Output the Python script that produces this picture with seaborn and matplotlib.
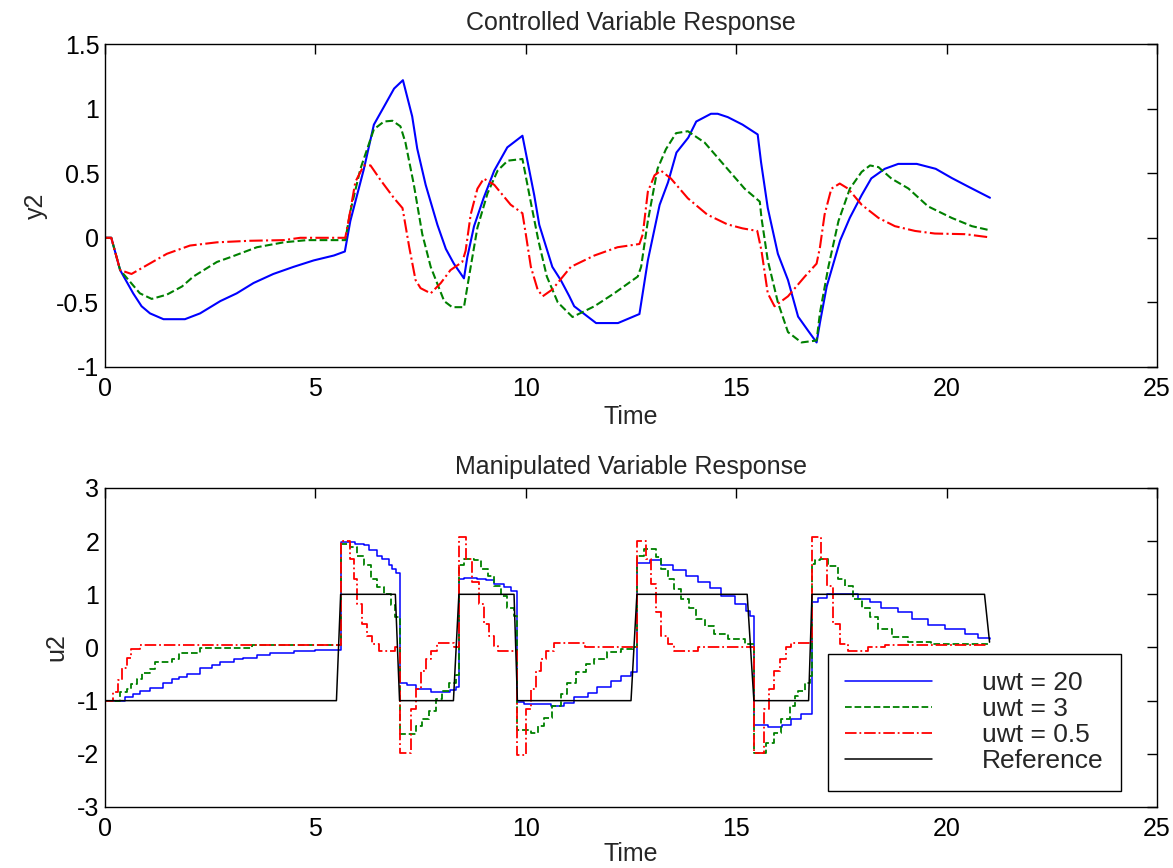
import numpy as np
import pandas as pd
import matplotlib
matplotlib.use("Agg")
import matplotlib.pyplot as plt
import seaborn as sns

# ---- controlled variable y2 ----
t_y20 = [0, 0.15, 0.36, 0.67, 0.87, 1.07, 1.39, 1.9, 2.26, 2.74, 3.13, 3.53, 4.0, 4.48, 4.96, 5.44,
         5.7, 5.83, 6.15, 6.39, 6.63, 6.87, 7.08, 7.3, 7.42, 7.62, 7.9, 8.1, 8.29, 8.53, 8.61, 8.77,
         9.0, 9.25, 9.56, 9.92, 10.2, 10.32, 10.63, 10.83, 11.03, 11.15, 11.67, 12.19, 12.7, 12.9,
         13.18, 13.38, 13.58, 13.86, 14.05, 14.4, 14.56, 14.8, 15.15, 15.51, 15.59, 15.75, 15.99,
         16.23, 16.47, 16.71, 16.91, 16.99, 17.15, 17.47, 17.7, 17.98, 18.21, 18.53, 18.85, 19.29,
         19.74, 20.12, 20.52, 21.03]
y2_20 = [0, 0, -0.25, -0.43, -0.53, -0.585, -0.63, -0.63, -0.585, -0.49, -0.43, -0.35, -0.28, -0.225,
         -0.175, -0.137, -0.106, 0.13, 0.53, 0.876, 1.015, 1.155, 1.22, 0.94, 0.69, 0.41, 0.10, -0.086,
         -0.2, -0.314, -0.15, 0.09, 0.31, 0.52, 0.70, 0.79, 0.33, 0.10, -0.225, -0.327, -0.45, -0.53,
         -0.66, -0.66, -0.59, -0.175, 0.255, 0.43, 0.66, 0.775, 0.90, 0.96, 0.96, 0.934, 0.876, 0.80,
         0.585, 0.23, -0.124, -0.327, -0.61, -0.72, -0.81, -0.656, -0.377, -0.02, 0.155, 0.33, 0.46,
         0.534, 0.572, 0.572, 0.534, 0.463, 0.395, 0.31]

t_y3 = [0, 0.15, 0.36, 0.83, 1.11, 1.47, 1.83, 2.1, 2.66, 2.98, 3.61, 4.25, 4.8, 5.71, 5.83, 6.07,
        6.39, 6.63, 6.83, 7.02, 7.14, 7.34, 7.54, 7.74, 8.06, 8.25, 8.53, 8.69, 8.85, 9.09, 9.33, 9.57,
        9.92, 10.1, 10.3, 10.5, 10.76, 11.11, 11.63, 12.1, 12.66, 12.74, 12.9, 13.13, 13.33, 13.57,
        13.85, 14.25, 14.72, 15.2, 15.56, 15.6, 15.75, 15.99, 16.23, 16.55, 16.91, 16.99, 17.19, 17.43,
        17.7, 17.98, 18.18, 18.38, 18.69, 19.09, 19.56, 20.12, 20.6, 21.03]
y2_3 = [0, 0, -0.25, -0.43, -0.473, -0.44, -0.377, -0.30, -0.187, -0.15, -0.073, -0.035, -0.018,
        -0.018, 0.205, 0.534, 0.84, 0.90, 0.906, 0.863, 0.737, 0.41, 0.028, -0.225, -0.49, -0.537,
        -0.537, -0.225, 0.078, 0.344, 0.52, 0.597, 0.61, 0.306, -0.023, -0.30, -0.50, -0.613, -0.53,
        -0.43, -0.30, -0.225, 0.13, 0.534, 0.686, 0.81, 0.825, 0.737, 0.56, 0.38, 0.28, 0.154, -0.175,
        -0.50, -0.73, -0.81, -0.795, -0.58, -0.225, 0.13, 0.38, 0.51, 0.56, 0.547, 0.458, 0.382, 0.243,
        0.154, 0.09, 0.058]

t_y05 = [0, 0.15, 0.36, 0.63, 0.99, 1.47, 2.02, 2.66, 3.45, 4.25, 4.64, 5.71, 5.8, 5.95, 6.15, 6.31,
         6.55, 6.87, 7.07, 7.23, 7.38, 7.5, 7.74, 7.98, 8.21, 8.49, 8.57, 8.69, 8.85, 9.0, 9.25, 9.64,
         9.92, 10.0, 10.12, 10.28, 10.4, 10.63, 11.07, 11.63, 12.18, 12.7, 12.78, 12.9, 13.06, 13.21,
         13.45, 13.85, 14.31, 14.79, 15.15, 15.5, 15.6, 15.75, 15.91, 16.23, 16.63, 16.91, 16.99, 17.1,
         17.26, 17.46, 17.66, 17.98, 18.38, 18.77, 19.25, 19.72, 20.44, 21.03]
y2_05 = [0, 0, -0.25, -0.28, -0.213, -0.124, -0.06, -0.035, -0.023, -0.018, 0.0, 0.0, 0.155, 0.433,
         0.56, 0.56, 0.446, 0.306, 0.23, -0.073, -0.327, -0.39, -0.43, -0.35, -0.25, -0.187, -0.1, 0.18,
         0.38, 0.458, 0.41, 0.256, 0.19, 0.028, -0.225, -0.40, -0.453, -0.40, -0.225, -0.137, -0.073,
         -0.048, 0.028, 0.357, 0.484, 0.52, 0.458, 0.306, 0.18, 0.104, 0.073, 0.053, -0.1, -0.43, -0.53,
         -0.453, -0.30, -0.2, -0.073, 0.18, 0.38, 0.42, 0.38, 0.256, 0.154, 0.09, 0.053, 0.033, 0.028,
         0.003]

# ---- manipulated variable u2 (zero-order hold values) ----
t_u20 = [0, 0.48, 0.67, 0.83, 1.07, 1.39, 1.59, 1.75, 1.94, 2.26, 2.54, 2.74, 3.06, 3.29, 3.61, 3.93,
         4.48, 5.0, 5.6, 5.95, 6.15, 6.27, 6.47, 6.59, 6.75, 6.83, 6.92, 7.0, 7.18, 7.38, 7.74, 8.21,
         8.33, 8.41, 8.53, 8.85, 9.05, 9.25, 9.48, 9.64, 9.8, 9.96, 10.6, 10.9, 11.15, 11.47, 11.7,
         12.02, 12.26, 12.5, 12.64, 12.94, 13.21, 13.49, 13.8, 14.09, 14.37, 14.64, 14.96, 15.24, 15.32,
         15.42, 15.76, 16.08, 16.31, 16.55, 16.8, 16.95, 17.15, 17.9, 18.17, 18.45, 18.85, 19.17, 19.56,
         19.96, 20.44, 20.75, 21.02]
u2_20 = [-1, -0.94, -0.88, -0.82, -0.755, -0.66, -0.6, -0.55, -0.5, -0.38, -0.33, -0.27, -0.22, -0.19,
         -0.145, -0.107, -0.063, -0.04, 1.98, 1.95, 1.92, 1.84, 1.73, 1.67, 1.55, 1.48, 1.41, -0.66,
         -0.71, -0.79, -0.83, -0.80, -0.75, 1.29, 1.31, 1.29, 1.26, 1.19, 1.13, 1.07, -1.03, -1.07,
         -1.1, -1.04, -0.94, -0.85, -0.74, -0.63, -0.53, -0.47, 1.585, 1.65, 1.55, 1.45, 1.35, 1.23,
         1.11, 0.975, 0.82, 0.69, 0.6, -1.45, -1.49, -1.45, -1.35, -1.26, 0.86, 0.94, 1.0, 0.92, 0.85,
         0.75, 0.66, 0.53, 0.43, 0.35, 0.25, 0.18, 0.16]

t_u3 = [0, 0.36, 0.52, 0.63, 0.75, 0.87, 1.07, 1.19, 1.59, 1.75, 2.26, 3.5, 5.6, 5.83, 5.99, 6.15,
        6.31, 6.47, 6.63, 6.79, 6.9, 7.0, 7.3, 7.38, 7.54, 7.7, 7.86, 8.02, 8.17, 8.33, 8.41, 8.53,
        8.77, 8.93, 9.09, 9.25, 9.4, 9.56, 9.72, 9.8, 10.12, 10.28, 10.44, 10.63, 10.83, 10.99, 11.19,
        11.43, 11.63, 11.94, 12.26, 12.54, 12.64, 12.8, 13.1, 13.21, 13.37, 13.53, 13.69, 13.88, 14.05,
        14.25, 14.48, 14.8, 15.2, 15.42, 15.7, 15.9, 16.06, 16.27, 16.39, 16.47, 16.63, 16.75, 16.8,
        16.87, 16.98, 17.18, 17.42, 17.58, 17.78, 17.98, 18.17, 18.37, 18.69, 19.09, 19.64, 20.98]
u2_3 = [-1, -0.84, -0.79, -0.68, -0.6, -0.48, -0.41, -0.27, -0.22, -0.107, -0.013, 0.05, 1.95, 1.89,
        1.73, 1.55, 1.29, 1.13, 1.0, 0.79, 0.58, -1.62, -1.62, -1.48, -1.34, -1.19, -0.97, -0.82, -0.66,
        -0.52, 1.55, 1.67, 1.64, 1.48, 1.35, 1.16, 0.975, 0.75, 0.6, -1.55, -1.6, -1.47, -1.32, -1.1,
        -0.88, -0.66, -0.47, -0.31, -0.22, -0.094, -0.03, 0.0, 1.73, 1.86, 1.70, 1.48, 1.29, 1.1, 0.91,
        0.75, 0.53, 0.41, 0.25, 0.16, 0.06, -1.98, -1.79, -1.6, -1.35, -1.1, -0.91, -0.82, -0.66, -0.53,
        1.57, 1.64, 1.67, 1.53, 1.29, 1.16, 0.91, 0.75, 0.57, 0.35, 0.19, 0.094, 0.063, 0.03]

t_u05 = [0, 0.2, 0.32, 0.4, 0.52, 0.63, 0.83, 5.6, 5.83, 5.91, 5.99, 6.11, 6.23, 6.35, 6.51, 6.9, 7.0,
         7.26, 7.38, 7.5, 7.62, 7.74, 7.9, 8.29, 8.41, 8.57, 8.73, 8.89, 9.0, 9.13, 9.25, 9.33, 9.8,
         10.0, 10.12, 10.24, 10.36, 10.48, 10.67, 11.4, 12.64, 12.86, 12.98, 13.1, 13.21, 13.37, 13.53,
         14.1, 15.42, 15.67, 15.79, 15.9, 16.03, 16.19, 16.31, 16.8, 17.02, 17.15, 17.31, 17.47, 17.66,
         18.14, 18.53, 20.98]
u2_05 = [-1, -0.84, -0.61, -0.38, -0.19, -0.03, 0.05, 2.0, 1.67, 1.29, 0.82, 0.44, 0.22, 0.06, -0.06,
         0.0, -1.98, -1.16, -0.79, -0.44, -0.22, -0.06, 0.08, 0.0, 2.07, 1.67, 1.23, 0.82, 0.44, 0.22,
         0.03, -0.06, -2.03, -1.16, -0.79, -0.44, -0.22, -0.06, 0.075, 0.0, 2.0, 1.67, 1.19, 0.66, 0.22,
         0.06, -0.06, 0.0, -1.98, -1.16, -0.79, -0.44, -0.22, 0.0, 0.08, 2.07, 1.67, 1.16, 0.44, 0.06,
         -0.06, 0.0, 0.05, 0.05]

t_ref = [0, 5.5, 5.6, 6.9, 7.0, 8.28, 8.41, 9.72, 9.8, 12.5, 12.64, 15.26, 15.42, 16.72, 16.8, 20.9, 21.02]
u_ref = [-1, -1, 1, 1, -1, -1, 1, 1, -1, -1, 1, 1, -1, -1, 1, 1, 0.1]

labels = ["uwt = 20", "uwt = 3", "uwt = 0.5", "Reference"]

sns.set_theme(style="white")
plt.rcParams["font.family"] = ["Liberation Sans", "DejaVu Sans"]
plt.rcParams["axes.unicode_minus"] = False

fig = plt.figure(figsize=(11.73, 8.68), dpi=100)
ax1 = fig.add_axes([0.0895, 0.5772, 0.8969, 0.3721])
ax2 = fig.add_axes([0.0895, 0.0703, 0.8969, 0.3675])

blue, green, red = "#0000ff", "#008000", "#ff0000"
fs = 18

common = dict(estimator=None, sort=False)
sns.lineplot(x=t_y20, y=y2_20, ax=ax1, color=blue, linewidth=1.5, **common)
sns.lineplot(x=t_y3, y=y2_3, ax=ax1, color=green, linewidth=1.5, linestyle="--", **common)
sns.lineplot(x=t_y05, y=y2_05, ax=ax1, color=red, linewidth=1.5, linestyle="-.", **common)

sns.lineplot(x=t_u20, y=u2_20, ax=ax2, color=blue, linewidth=1.1, drawstyle="steps-post", **common)
sns.lineplot(x=t_u3, y=u2_3, ax=ax2, color=green, linewidth=1.3, linestyle="--", drawstyle="steps-post", **common)
sns.lineplot(x=t_u05, y=u2_05, ax=ax2, color=red, linewidth=1.3, linestyle="-.", drawstyle="steps-post", **common)
sns.lineplot(x=t_ref, y=u_ref, ax=ax2, color="black", linewidth=1.1, **common)

def style_axes(ax, ylim, yticks, ylabel, title, xpad):
    ax.set_xlim(0, 25)
    ax.set_ylim(*ylim)
    ax.set_xticks([0, 5, 10, 15, 20, 25])
    ax.set_yticks(yticks)
    ax.set_yticklabels([f"{v:g}" for v in yticks])
    ax.set_xlabel("Time", fontsize=fs, labelpad=xpad)
    ax.set_ylabel(ylabel, fontsize=fs, labelpad=6)
    ax.set_title(title, fontsize=fs, pad=10)
    ax.tick_params(direction="in", top=True, right=True, length=7, width=1,
                   labelsize=fs, colors="black", pad=4)
    ax.tick_params(axis="x", pad=7)
    for s in ax.spines.values():
        s.set_color("black")
        s.set_linewidth(1.0)

style_axes(ax1, (-1, 1.5), [-1, -0.5, 0, 0.5, 1, 1.5], "y2", "Controlled Variable Response", 3)
style_axes(ax2, (-3, 3), [-3, -2, -1, 0, 1, 2, 3], "u2", "Manipulated Variable Response", 1)

handles = ax2.get_lines()[:4]
leg = ax2.legend(handles, labels, loc="upper left", bbox_to_anchor=(0.687, 0.48),
                 fontsize=19, frameon=True, fancybox=False, framealpha=1,
                 handlelength=3.3, handletextpad=1.9, borderpad=0.65, labelspacing=0.08,
                 borderaxespad=0)
leg.get_frame().set_edgecolor("black")
leg.get_frame().set_linewidth(1.0)

fig.savefig("out.png", dpi=100)
